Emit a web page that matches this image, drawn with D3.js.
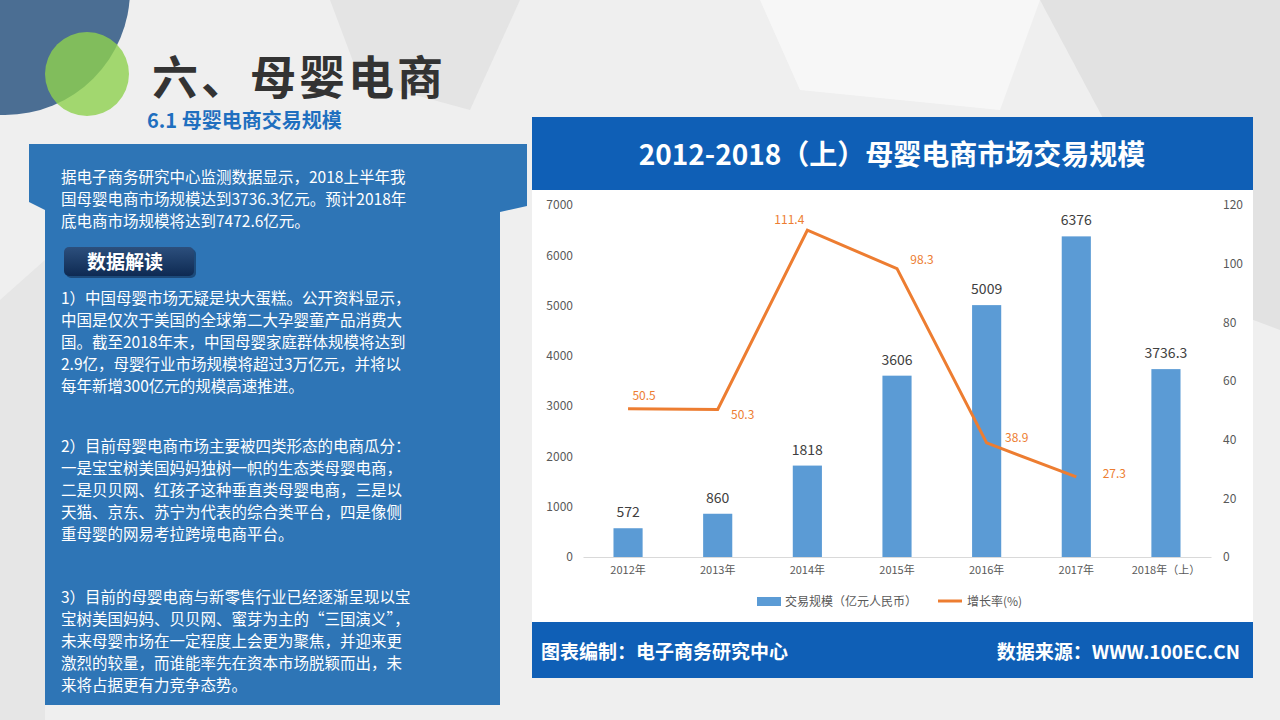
<!DOCTYPE html>
<html><head><meta charset="utf-8">
<script src="https://cdn.jsdelivr.net/npm/d3@7"></script>
<style>body{margin:0;background:#eee;overflow:hidden}svg{display:block;font-family:"Noto Sans CJK SC",sans-serif}</style>
</head><body><svg id="c" width="1280" height="720"></svg>
<script>
const categories=["2012年","2013年","2014年","2015年","2016年","2017年","2018年（上）"];
const scaleValues=[572,860,1818,3606,5009,6376,3736.3];
const growthValues=[50.5,50.3,111.4,98.3,38.9,27.3];
const leftTicks=[0,1000,2000,3000,4000,5000,6000,7000];
const rightTicks=[0,20,40,60,80,100,120];
const paraLines=[
["据电子商务研究中心监测数据显示，2018上半年我","国母婴电商市场规模达到3736.3亿元。预计2018年","底电商市场规模将达到7472.6亿元。"],
["1）中国母婴市场无疑是块大蛋糕。公开资料显示，","中国是仅次于美国的全球第二大孕婴童产品消费大","国。截至2018年末，中国母婴家庭群体规模将达到","2.9亿，母婴行业市场规模将超过3万亿元，并将以","每年新增300亿元的规模高速推进。"],
["2）目前母婴电商市场主要被四类形态的电商瓜分：","一是宝宝树美国妈妈独树一帜的生态类母婴电商，","二是贝贝网、红孩子这种垂直类母婴电商，三是以","天猫、京东、苏宁为代表的综合类平台，四是像侧","重母婴的网易考拉跨境电商平台。"],
["3）目前的母婴电商与新零售行业已经逐渐呈现以宝","宝树美国妈妈、贝贝网、蜜芽为主的“三国演义”，","未来母婴市场在一定程度上会更为聚焦，并迎来更","激烈的较量，而谁能率先在资本市场脱颖而出，未","来将占据更有力竞争态势。"]];
const svg=d3.select("#c");
svg.append("rect").attr("width",1280).attr("height",720).attr("fill","#efefef");
svg.append("polygon").attr("points","330,0 520,0 470,110 360,80").attr("fill","#e4e4e4");
svg.append("polygon").attr("points","760,0 1040,0 1000,110 800,90").attr("fill","#f7f7f7");
svg.append("polygon").attr("points","1040,0 1280,0 1280,330 1200,300").attr("fill","#e2e2e2");
svg.append("polygon").attr("points","0,300 45,260 45,720 0,720").attr("fill","#e6e6e6");
svg.append("circle").attr("cx",5).attr("cy",-10).attr("r",125).attr("fill","#4b6e93");
svg.append("circle").attr("cx",87).attr("cy",74).attr("r",42).attr("fill","#8fd14f").attr("opacity",0.8);
svg.append("text").attr("x",152).attr("y",94).attr("font-size",46).attr("font-weight","bold").attr("letter-spacing",3).attr("fill","#333").text("六、母婴电商");
svg.append("text").attr("x",147).attr("y",128).attr("font-size",20).attr("font-weight","bold").attr("fill","#1f6fbf").text("6.1  母婴电商交易规模");
svg.append("polygon").attr("points","29,144 527,144 527,206 500,212 500,705 45,705 45,210 29,202").attr("fill","#2e75b6");
paraLines[0].forEach((t,i)=>svg.append("text").attr("x",61).attr("y",183+i*22).attr("font-size",15.5).attr("fill","#fff").text(t));
const g0=svg.append("defs").append("linearGradient").attr("id","bt").attr("x1",0).attr("y1",0).attr("x2",0).attr("y2",1);
g0.append("stop").attr("offset",0).attr("stop-color","#2c4f7d");g0.append("stop").attr("offset",1).attr("stop-color","#0e2a52");
svg.append("rect").attr("x",66).attr("y",249).attr("width",130).attr("height",29).attr("rx",5).attr("fill","#0a1f3d").attr("opacity",0.5);
svg.append("rect").attr("x",64).attr("y",247).attr("width",130).attr("height",29).attr("rx",5).attr("fill","url(#bt)");
svg.append("text").attr("x",87).attr("y",269).attr("font-size",19).attr("font-weight","bold").attr("fill","#fff").text("数据解读");
const starts=[304,452,603];
paraLines.slice(1).forEach((p,k)=>p.forEach((t,i)=>svg.append("text").attr("x",61).attr("y",starts[k]+i*22).attr("font-size",15.5).attr("fill","#fff").text(t)));
svg.append("rect").attr("x",532).attr("y",117).attr("width",721).attr("height",561).attr("fill","#fff");
svg.append("rect").attr("x",532).attr("y",117).attr("width",721).attr("height",73).attr("fill","#0f5fb6");
svg.append("text").attr("x",892).attr("y",165).attr("text-anchor","middle").attr("font-size",28).attr("font-weight","bold").attr("fill","#fff").text("2012-2018（上）母婴电商市场交易规模");
svg.append("rect").attr("x",532).attr("y",622).attr("width",721).attr("height",56).attr("fill","#0f5fb6");
svg.append("text").attr("x",541).attr("y",659).attr("font-size",19).attr("font-weight","bold").attr("fill","#fff").text("图表编制：电子商务研究中心");
svg.append("text").attr("x",1240).attr("y",659).attr("text-anchor","end").attr("font-size",19).attr("font-weight","bold").attr("fill","#fff").text("数据来源：WWW.100EC.CN");
const x=d3.scaleBand().domain(categories).range([583,1211]).paddingInner(0.675).paddingOuter(0.34);
const yL=d3.scaleLinear().domain([0,7000]).range([557,205]);
const yR=d3.scaleLinear().domain([0,120]).range([557,205]);
const ax=svg.append("g").attr("transform","translate(0,557)").call(d3.axisBottom(x).tickSize(0).tickPadding(9));
ax.select(".domain").attr("stroke","#d9d9d9");
ax.selectAll("text").attr("font-size",11).attr("fill","#595959").attr("font-family","Noto Sans CJK SC");
const al=svg.append("g").attr("transform","translate(576,0)").call(d3.axisLeft(yL).tickValues(leftTicks).tickSize(0).tickFormat(d3.format("d")));
al.select(".domain").remove();al.selectAll("text").attr("font-size",12).attr("fill","#595959").attr("font-family","Noto Sans CJK SC");
const ar=svg.append("g").attr("transform","translate(1220,0)").call(d3.axisRight(yR).tickValues(rightTicks).tickSize(0));
ar.select(".domain").remove();ar.selectAll("text").attr("font-size",12).attr("fill","#595959").attr("font-family","Noto Sans CJK SC");
svg.selectAll(".bar").data(scaleValues).join("rect").attr("x",(d,i)=>x(categories[i])).attr("y",d=>yL(d)).attr("width",x.bandwidth()).attr("height",d=>557-yL(d)).attr("fill","#5b9bd5");
svg.selectAll(".bl").data(scaleValues).join("text").attr("x",(d,i)=>x(categories[i])+x.bandwidth()/2).attr("y",d=>yL(d)-11).attr("text-anchor","middle").attr("font-size",14).attr("fill","#404040").text(d=>d);
const cx=i=>x(categories[i])+x.bandwidth()/2;
svg.append("path").datum(growthValues).attr("d",d3.line().x((d,i)=>cx(i)).y(d=>yR(d))).attr("fill","none").attr("stroke","#ed7d31").attr("stroke-width",3);
const off=[[16,-13],[25,6],[-18,-10],[25,-9],[30,-5],[38,-3]];
svg.selectAll(".ll").data(growthValues).join("text").attr("x",(d,i)=>cx(i)+off[i][0]).attr("y",(d,i)=>yR(d)+off[i][1]+4).attr("text-anchor","middle").attr("font-size",12).attr("fill","#ed7d31").text(d=>d);
svg.append("rect").attr("x",757).attr("y",597).attr("width",24).attr("height",9).attr("fill","#5b9bd5");
svg.append("text").attr("x",785).attr("y",606).attr("font-size",12).attr("fill","#595959").text("交易规模（亿元人民币）");
svg.append("line").attr("x1",938).attr("x2",962).attr("y1",601).attr("y2",601).attr("stroke","#ed7d31").attr("stroke-width",3);
svg.append("text").attr("x",967).attr("y",606).attr("font-size",12).attr("fill","#595959").text("增长率(%)");
</script></body></html>
